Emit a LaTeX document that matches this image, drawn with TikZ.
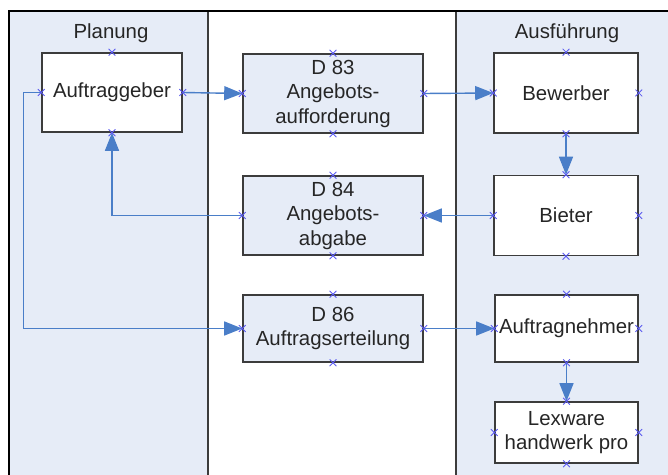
\documentclass[tikz,border=0pt]{standalone}
\usepackage{fontspec}
\setmainfont{Liberation Sans}
\usetikzlibrary{arrows.meta,shapes.misc}
\definecolor{lanefill}{HTML}{E6ECF7}
\definecolor{connblue}{HTML}{4A7EC8}
\definecolor{xblue}{HTML}{5A5AF0}
\definecolor{boxline}{HTML}{3C3C3C}
\tikzset{
  box/.style={draw=boxline, line width=0.8pt, align=center, inner sep=0pt,
    font=\fontsize{10.2}{12.25}\selectfont, text=black!85},
  actor/.style={box, fill=white, minimum width=71.5pt, minimum height=39.5pt},
  doc/.style={box, fill=lanefill, minimum width=90pt, minimum height=39.5pt},
  lane/.style={fill=lanefill, draw=boxline, line width=0.6pt},
  lanetitle/.style={font=\fontsize{10.2}{12.25}\selectfont, text=black!85},
  conn/.style={draw=connblue, line width=0.7pt, -{Triangle[length=9pt,width=7pt]}},
  xmark/.style={cross out, draw=xblue, line width=0.4pt, minimum size=3pt, inner sep=0pt}
}

\begin{document}
\begin{tikzpicture}[x=0.5pt,y=-0.5pt]
    \useasboundingbox (0,0) rectangle (668,475);
    % Swimlanes
    \filldraw[lane] (9,11) rectangle (208,480);
    \filldraw[lane] (456,11) rectangle (672,480);
    \draw[line width=1.2pt] (9,480) -- (9,11) -- (672,11);
    \node[lanetitle] (planung) at (111,33) {Planung};
    \node[lanetitle] (ausfuehrung) at (567,33) {Ausführung};
    % Parties
    \node[actor, minimum width=70pt] (auftraggeber) at (112,92.5) {Auftraggeber};
    \node[actor, minimum width=72pt, minimum height=40pt] (bewerber) at (566,93) {Bewerber};
    \node[actor, minimum width=72pt, minimum height=40pt] (bieter) at (566,215.5) {Bieter};
    \node[actor, minimum height=33.5pt] (auftragnehmer) at (566.5,328.5) {Auftragnehmer};
    \node[actor, minimum height=30.5pt] (lexware) at (566.5,432.5) {Lexware\\handwerk pro};
    % Documents
    \node[doc] (d83) at (333,93.5) {D 83\\Angebots-\\aufforderung};
    \node[doc] (d84) at (333,215.5) {D 84\\Angebots-\\abgabe};
    \node[doc, minimum height=33.5pt] (d86) at (333,328.5) {D 86\\Auftragserteilung};
    % Connectors
    \draw[conn] (auftraggeber.east) -- (d83.west);
    \draw[conn] (d83.east) -- (bewerber.west);
    \draw[conn] (bewerber.south) -- (bieter.north);
    \draw[conn] (bieter.west) -- (d84.east);
    \draw[conn] (d84.west) -| (auftraggeber.south);
    \draw[conn] (auftraggeber.west) -- ++(-18,0) |- (d86.west);
    \draw[conn] (d86.east) -- (auftragnehmer.west);
    \draw[conn] (auftragnehmer.south) -- (lexware.north);
    % Connection points
    \foreach \n in {auftraggeber,d83,d84,d86,bewerber,bieter,auftragnehmer,lexware}
      \foreach \a in {north,south,east,west}
        \node[xmark] at (\n.\a) {};
\end{tikzpicture}
\end{document}
